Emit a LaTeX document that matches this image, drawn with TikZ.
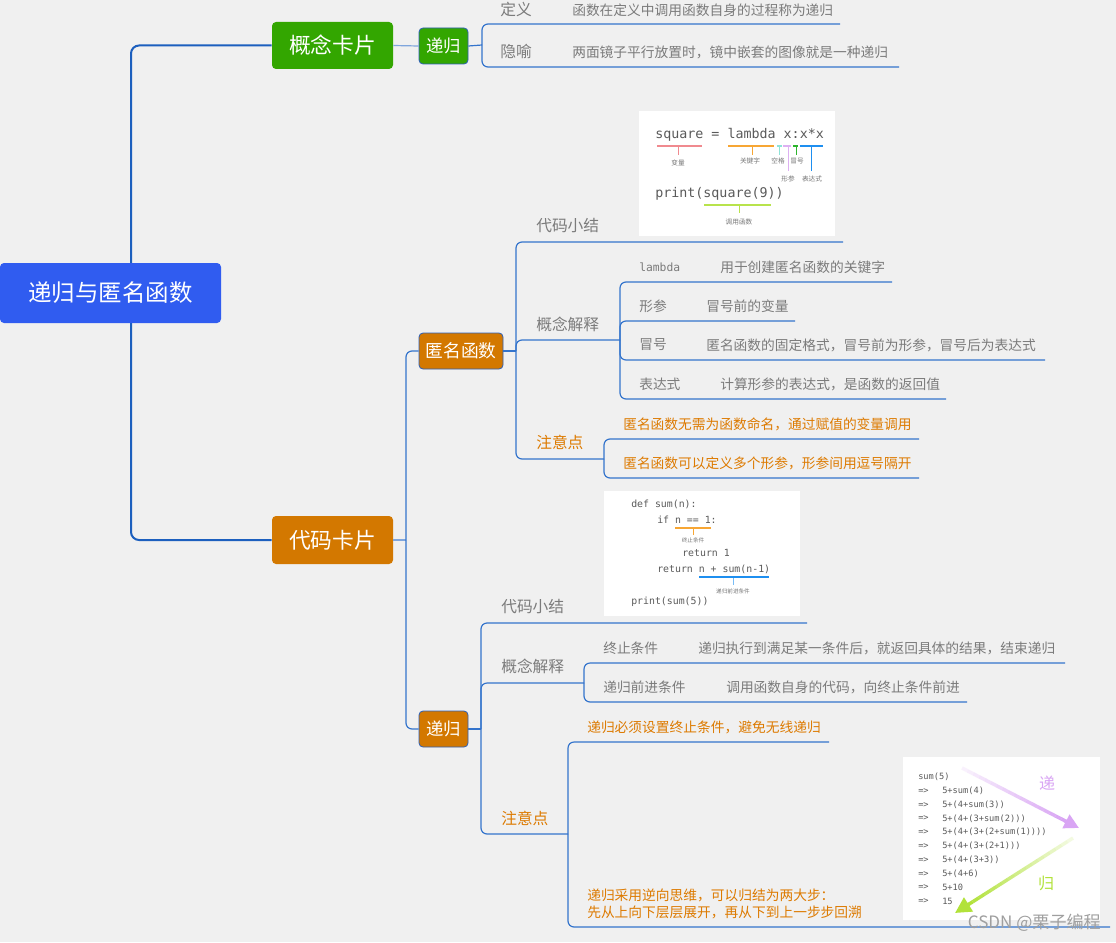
\documentclass[tikz,border=0pt]{standalone}
\usepackage{fontspec}
\setmainfont{Noto Sans CJK SC}
\setmonofont{DejaVu Sans Mono}
\usetikzlibrary{arrows.meta,calc}
\definecolor{bg}{HTML}{F0F0F0}
\definecolor{rootblue}{HTML}{305CF0}
\definecolor{cgreen}{HTML}{33A600}
\definecolor{corange}{HTML}{D37800}
\definecolor{lnblue}{HTML}{3474CC}
\definecolor{lnlight}{HTML}{7FA6DD}
\definecolor{trunkblue}{HTML}{1C5FBE}
\definecolor{bordblue}{HTML}{2C5FB8}
\definecolor{tgray}{HTML}{7B7B7B}
\definecolor{torange}{HTML}{DD7A00}
\definecolor{codegray}{HTML}{5A5A5A}
\definecolor{tinygray}{HTML}{777777}
\definecolor{ulpink}{HTML}{F08A8F}
\definecolor{ulorange}{HTML}{F7A634}
\definecolor{ulcyan}{HTML}{8EE3D8}
\definecolor{ulpurple}{HTML}{DDB0F2}
\definecolor{ulgreen}{HTML}{2DB52D}
\definecolor{ulblue}{HTML}{1E8FF0}
\definecolor{ulyg}{HTML}{B8E34C}
\definecolor{lilac}{HTML}{D9A5F4}
\definecolor{ygreen}{HTML}{B2E23A}
\begin{document}
\begin{tikzpicture}[x=0.75pt,y=-0.75pt,
  box/.style={rounded corners=3pt, text=white, inner sep=0pt},
  bbox/.style={box, draw=bordblue, line width=0.6pt},
  ln/.style={draw=lnblue, line width=0.9pt, rounded corners=4.5pt},
  trunk/.style={draw=trunkblue, line width=1.5pt, rounded corners=6pt},
  lab/.style={anchor=west, inner sep=0pt, text=tgray, font=\fontsize{11.8}{14}\selectfont},
  olab/.style={lab, text=torange},
  leaf/.style={anchor=west, inner sep=0pt, text=tgray, font=\fontsize{10.3}{12.75}\selectfont},
  oleaf/.style={leaf, text=torange},
  mono/.style={anchor=west, inner sep=0pt, text=codegray},
  tiny/.style={inner sep=0pt, text=tinygray, font=\fontsize{5}{6}\selectfont},
  ul/.style={line width=2.2pt},
  tick/.style={line width=0.6pt}
]
\useasboundingbox (0,0) rectangle (1116,942);
\fill[bg] (0,0) rectangle (1116,942);

% ---------- main boxes ----------
\node[box, fill=cgreen, minimum width=90.75pt, minimum height=35.25pt,
  font=\fontsize{16.3}{18}\selectfont] (gk) at (332.5,45.5) {概念卡片};
\node[box, fill=corange, minimum width=90.75pt, minimum height=36pt,
  font=\fontsize{16.3}{18}\selectfont] (ck) at (332.5,540) {代码卡片};
\node[bbox, fill=cgreen, minimum width=36.75pt, minimum height=27pt,
  font=\fontsize{13}{15}\selectfont] (g2) at (443.5,46) {递归};
\node[bbox, fill=corange, minimum width=63pt, minimum height=27pt,
  font=\fontsize{13.3}{15}\selectfont] (nm) at (461,351) {匿名函数};
\node[bbox, fill=corange, minimum width=36.75pt, minimum height=27pt,
  font=\fontsize{13}{15}\selectfont] (dg) at (443.5,729) {递归};

% ---------- trunk ----------
\coordinate (t0) at (131,293);
\draw[trunk] (t0) |- (gk.west);
\draw[trunk] (t0) |- (ck.west);
\node[box, fill=rootblue, minimum width=165.75pt, minimum height=45pt,
  font=\fontsize{17.6}{20}\selectfont] (root) at (110.5,293) {递归与匿名函数};

% ---------- 概念卡片 branch ----------
\draw[draw=lnlight, line width=0.9pt] (gk.east) -- (g2.west);
\coordinate (h1) at (482,45);
\draw[ln] (g2.east) -- (h1);
\draw[ln] (h1) |- (840,24);
\draw[ln] (h1) |- (899,67);
\node[lab] (a1) at (500,9) {定义};
\node[leaf] (a2) at (572,10) {函数在定义中调用函数自身的过程称为递归};
\node[lab] (a3) at (500,51) {隐喻};
\node[leaf] (a4) at (572,52) {两面镜子平行放置时，镜中嵌套的图像就是一种递归};

% ---------- 代码卡片 branch ----------
\coordinate (h2) at (406,540);
\draw[draw=lnlight, line width=0.9pt] (ck.east) -- (h2);
\draw[ln] (h2) |- (nm.west);
\draw[ln] (h2) |- (dg.west);

% ---------- 匿名函数 ----------
\coordinate (h3) at (516,351);
\draw[ln] (nm.east) -- (h3);
\draw[ln] (h3) |- (843,242);
\draw[ln] (h3) |- (620,340);
\draw[ln] (h3) |- (604,459);
\node[lab] (b1) at (536,226) {代码小结};
\node[lab] (b2) at (536,324) {概念解释};
\node[olab] (b3) at (536,442) {注意点};

\coordinate (h4) at (620,340);
\draw[ln] (h4) |- (892,282);
\draw[ln] (h4) |- (795,321);
\draw[ln] (h4) |- (1045,360);
\draw[ln] (h4) |- (946,399);
\node[mono, text=tgray, font=\ttfamily\fontsize{8.5}{10}\selectfont] (c1) at (639,267) {lambda};
\node[leaf] (c2) at (720,267) {用于创建匿名函数的关键字};
\node[leaf] (c3) at (639,306) {形参};
\node[leaf] (c4) at (706,306) {冒号前的变量};
\node[leaf] (c5) at (639,345) {冒号};
\node[leaf] (c6) at (706,345) {匿名函数的固定格式，冒号前为形参，冒号后为表达式};
\node[leaf] (c7) at (639,384) {表达式};
\node[leaf] (c8) at (720,384) {计算形参的表达式，是函数的返回值};

\coordinate (h5) at (604,459);
\draw[ln] (h5) |- (919,439);
\draw[ln] (h5) |- (919,478);
\node[oleaf] (d1) at (623,424) {匿名函数无需为函数命名，通过赋值的变量调用};
\node[oleaf] (d2) at (623,463) {匿名函数可以定义多个形参，形参间用逗号隔开};

% ---------- code image 1 ----------
\fill[white] (639,111) rectangle (835,236);
\node[mono, font=\ttfamily\fontsize{10}{12}\selectfont] (s1) at (655,135) {square = lambda x:x*x};
\draw[ul, ulpink] (657,146) -- (702,146);
\draw[ul, ulorange] (728,146) -- (774,146);
\draw[ul, ulcyan] (777,146) -- (782,146);
\draw[ul, ulpurple] (783,146) -- (791,146);
\draw[ul, ulgreen] (793,146) -- (798,146);
\draw[ul, ulblue] (800,146) -- (823,146);
\draw[tick, ulpink] (678,147) -- (678,155);
\draw[tick, ulorange] (752,147) -- (752,155);
\draw[tick, ulcyan] (779,147) -- (779,155);
\draw[tick, ulpurple] (788,147) -- (788,171);
\draw[tick, ulgreen] (796,147) -- (796,155);
\draw[tick, ulblue] (811,147) -- (811,171);
\node[tiny] (s2) at (678,163) {变量};
\node[tiny] (s3) at (750,161) {关键字};
\node[tiny] (s4) at (778,161) {空格};
\node[tiny] (s5) at (797,161) {冒号};
\node[tiny] (s6) at (788,179) {形参};
\node[tiny] (s7) at (812,179) {表达式};
\node[mono, font=\ttfamily\fontsize{10}{12}\selectfont] (s8) at (655,194) {print(square(9))};
\draw[ul, ulyg] (704,205) -- (771,205);
\draw[tick, ulyg] (739,206) -- (739,213);
\node[tiny] (s9) at (739,222) {调用函数};

% ---------- 递归 (lower) ----------
\coordinate (h6) at (481,729);
\draw[ln] (dg.east) -- (h6);
\draw[ln] (h6) |- (807,623);
\draw[ln] (h6) |- (584,683);
\draw[ln] (h6) |- (568,834);
\node[lab] (e1) at (501,607) {代码小结};
\node[lab] (e2) at (501,666) {概念解释};
\node[olab] (e3) at (501,818) {注意点};

\coordinate (h7) at (584,683);
\draw[ln] (h7) |- (1065,663);
\draw[ln] (h7) |- (967,702);
\node[leaf] (f1) at (603,648) {终止条件};
\node[leaf] (f2) at (698,648) {递归执行到满足某一条件后，就返回具体的结果，结束递归};
\node[leaf] (f3) at (603,687) {递归前进条件};
\node[leaf] (f4) at (726,687) {调用函数自身的代码，向终止条件前进};

\coordinate (h8) at (568,834);
\draw[ln] (h8) |- (829,742);
\draw[ln] (h8) |- (1110,927);
\node[oleaf] (g1) at (587,727) {递归必须设置终止条件，避免无线递归};
\node[oleaf, align=left] (g3) at (587,903.5) {递归采用逆向思维，可以归结为两大步：\\先从上向下层层展开，再从下到上一步步回溯};

% ---------- code image 2 ----------
\fill[white] (604,491) rectangle (800,616);
\node[mono, font=\ttfamily\fontsize{7.4}{9}\selectfont] (k1) at (631,504) {def sum(n):};
\node[mono, font=\ttfamily\fontsize{7.4}{9}\selectfont] (k2) at (657,520) {if n == 1:};
\node[mono, font=\ttfamily\fontsize{7.4}{9}\selectfont] (k3) at (682,553) {return 1};
\node[mono, font=\ttfamily\fontsize{7.4}{9}\selectfont] (k4) at (657,569) {return n + sum(n-1)};
\node[mono, font=\ttfamily\fontsize{7.4}{9}\selectfont] (k5) at (631,602) {print(sum(5))};
\draw[line width=1.8pt, ulorange] (675,528) -- (711,528);
\draw[tick, ulorange] (693,529) -- (693,535);
\node[tiny, font=\fontsize{4.2}{5}\selectfont] (k6) at (693,540) {终止条件};
\draw[line width=1.8pt, ulblue] (699,577) -- (769,577);
\draw[tick, ulblue!60] (733,578) -- (733,585);
\node[tiny, font=\fontsize{4.2}{5}\selectfont] (k7) at (733,591) {递归前进条件};

% ---------- image 3 ----------
\fill[white] (903,757) rectangle (1100,920);
\node[mono, font=\ttfamily\fontsize{6.5}{8}\selectfont] (r0) at (918,777) {sum(5)};
\foreach \e [count=\k] in {5+sum(4),5+(4+sum(3)),5+(4+(3+sum(2))),5+(4+(3+(2+sum(1)))),5+(4+(3+(2+1))),5+(4+(3+3)),5+(4+6),5+10,15}{
  \node[mono, font=\ttfamily\fontsize{6.5}{8}\selectfont] (q\k) at (918,{777+13.8*\k}) {=>};
  \node[mono, font=\ttfamily\fontsize{6.5}{8}\selectfont] (r\k) at (942,{777+13.8*\k}) {\e};
}
\coordinate (pa) at (962,768);
\coordinate (pb) at (1079,828);
\foreach \i in {0,...,17}{
  \pgfmathsetmacro\ta{\i/20}
  \pgfmathsetmacro\tb{(\i+1)/20}
  \pgfmathsetmacro\op{0.1+0.9*(\i+1)/18}
  \draw[lilac, line width=2.6pt, draw opacity=\op] ($(pa)!\ta!(pb)$) -- ($(pa)!\tb!(pb)$);
}
\draw[lilac, line width=2.6pt, -{Triangle[length=11pt,width=11pt]}] ($(pa)!0.88!(pb)$) -- (pb);
\coordinate (qa) at (1073,838);
\coordinate (qb) at (955,913);
\foreach \i in {0,...,17}{
  \pgfmathsetmacro\ta{\i/20}
  \pgfmathsetmacro\tb{(\i+1)/20}
  \pgfmathsetmacro\op{0.1+0.9*(\i+1)/18}
  \draw[ygreen, line width=2.6pt, draw opacity=\op] ($(qa)!\ta!(qb)$) -- ($(qa)!\tb!(qb)$);
}
\draw[ygreen, line width=2.6pt, -{Triangle[length=12pt,width=12pt]}] ($(qa)!0.88!(qb)$) -- (qb);
\node[inner sep=0pt, text=lilac, font=\fontsize{12}{14}\selectfont] (m1) at (1047,783) {递};
\node[inner sep=0pt, text=ygreen, font=\fontsize{12}{14}\selectfont] (m2) at (1046,883) {归};

% watermark
\node[anchor=east, inner sep=0pt, text=gray!75, font=\fontsize{12.8}{14}\selectfont] (wm) at (1101,923) {CSDN @栗子编程};
\end{tikzpicture}
\end{document}
